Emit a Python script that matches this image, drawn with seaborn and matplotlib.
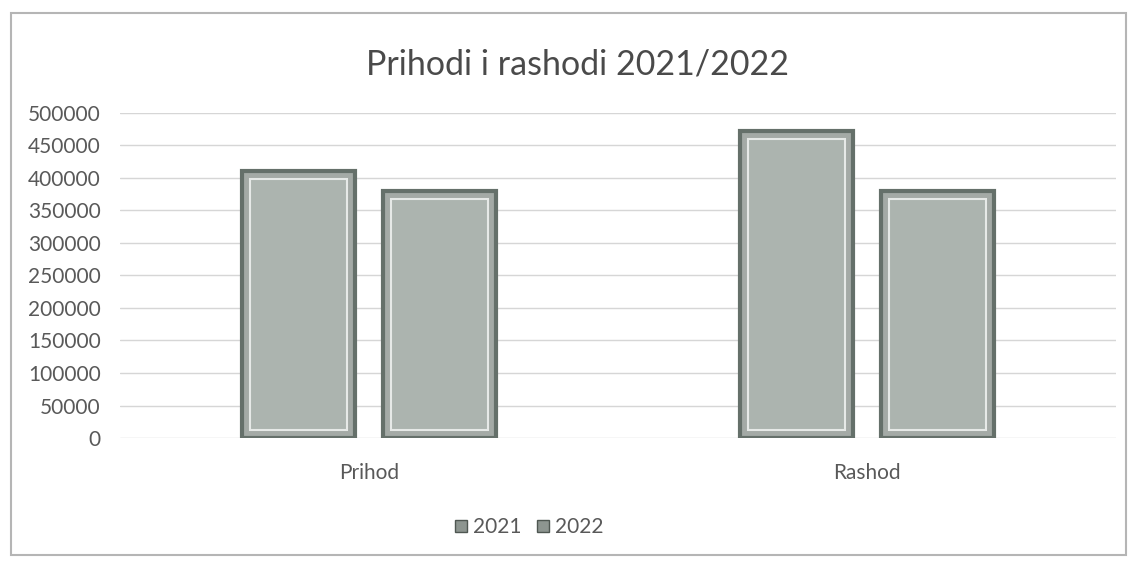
import numpy as np
import pandas as pd
import matplotlib
matplotlib.use('Agg')
import matplotlib.pyplot as plt
from matplotlib.patches import Rectangle
from matplotlib.lines import Line2D
import seaborn as sns

sns.set_style('white')
plt.rcParams['font.family'] = ['Lato', 'DejaVu Sans']

categories = ['Prihod', 'Rashod']
years = ['2021', '2022']
values_2021 = [411000, 472000]
values_2022 = [380000, 380000]
yticks = np.arange(0, 500001, 50000)

df = pd.DataFrame({
	'kategorija': categories * 2,
	'godina': [years[0]] * 2 + [years[1]] * 2,
	'iznos': values_2021 + values_2022,
})

txt = '#595959'
bar_face = '#a3aba6'
bar_edge = '#65706a'

fig = plt.figure(figsize=(11.33, 5.62), dpi=100)
ax = fig.add_axes([0.106, 0.2206, 0.879, 0.5785])

sns.barplot(
			data=df,
			x='kategorija',
			y='iznos',
			hue='godina',
			palette=[bar_face, bar_face],
			width=0.566,
			gap=0.2,
			edgecolor=bar_edge,
			linewidth=3,
			legend=False,
			ax=ax
			)

# bevel look: lighter inner frame inside each bar
for p in list(ax.patches):
	x, y = p.get_x(), p.get_y()
	w, h = p.get_width(), p.get_height()
	dx, dy = 0.016, 12000
	ax.add_patch(Rectangle((x + dx, y + dy), w - 2 * dx, h - 2 * dy,
						   facecolor='#acb4af', edgecolor='#e6e9e7', linewidth=1.5, zorder=3))

ax.set_ylim(0, 500000)
ax.set_xlim(-0.5, 1.5)
ax.set_yticks(yticks)
ax.set_yticklabels([str(v) for v in yticks])
ax.yaxis.grid(True, color='#d6d6d6', linewidth=1)
ax.set_axisbelow(True)
for s in ax.spines.values():
	s.set_visible(False)
ax.tick_params(axis='both', length=0, labelsize=15, colors=txt)
ax.tick_params(axis='x', pad=18)
ax.tick_params(axis='y', pad=14)
ax.set_xlabel('')
ax.set_ylabel('')

fig.text(0.51, 0.885, 'Prihodi i rashodi 2021/2022', ha='center', va='center',
		 fontsize=24.5, color='#4a4a4a')

handles = [Line2D([], [], marker='s', linestyle='', markersize=8,
				  markerfacecolor='#8d9590', markeredgecolor='#4f5752') for _ in years]
fig.legend(handles, years, loc='center', bbox_to_anchor=(0.466, 0.062), ncol=2,
		   frameon=False, fontsize=15, labelcolor=txt, handletextpad=0.2,
		   handlelength=0.8, columnspacing=0.6)

fig.patches.append(Rectangle((0.010, 0.012), 0.984, 0.964, transform=fig.transFigure,
							 fill=False, edgecolor='#b5b5b5', linewidth=1.5))

fig.savefig('out.png', dpi=100)
